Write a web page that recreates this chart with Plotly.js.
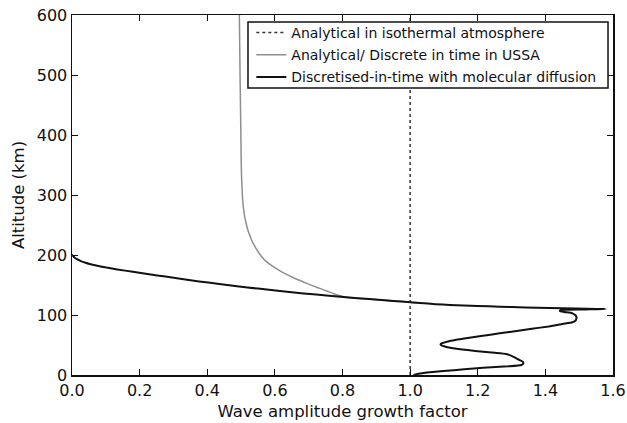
<!DOCTYPE html>
<html>
<head>
<meta charset="utf-8">
<script src="https://cdn.plot.ly/plotly-3.0.1.min.js"></script>
<style>html,body{margin:0;padding:0;background:#fff;}#chart{width:627px;height:423px;}</style>
</head>
<body>
<div id="chart"></div>
<script>
// Analytical in isothermal atmosphere
const isoAlt = [0, 600];
const isoFactor = [1, 1];

// Analytical / Discrete in time in USSA
const ussaAlt = [600, 500, 420, 375, 340, 310, 290, 270, 255, 240, 228, 216, 205, 197, 189, 181, 174, 168, 162, 157, 152.8, 148.5, 144.4, 140, 136, 133, 130, 128, 125, 122, 120];
const ussaFactor = [0.495, 0.497, 0.499, 0.5, 0.501, 0.503, 0.505, 0.509, 0.514, 0.521, 0.529, 0.539, 0.551, 0.561, 0.575, 0.594, 0.614, 0.633, 0.655, 0.676, 0.694, 0.713, 0.733, 0.753, 0.772, 0.787, 0.806, 0.845, 0.915, 0.985, 1.03];

// Discretised-in-time with molecular diffusion
const diffAlt = [201,199,197,195,193,191,189,187,185,182,179,176,172,168,164,160,156,152,148,144,140,136,132,128,125,122,120,118,116.7,115,113.9,112.7,111.7,110.8,110.2,109.3,108.2,106.5,105,102.8,99,94.5,90,87.8,85,81,77,73,69.5,65,61,57,54,52.8,51.2,49.5,47,44.5,41.5,38.8,37,35,32,29,27.8,25,22.2,19.5,16.7,14.5,12.2,9.5,6.7,4,2,0];
const diffFactor = [0,0.002,0.005,0.009,0.015,0.022,0.03,0.04,0.052,0.075,0.102,0.134,0.18,0.228,0.276,0.325,0.376,0.43,0.488,0.55,0.615,0.685,0.76,0.845,0.915,0.985,1.03,1.075,1.117,1.2,1.265,1.34,1.412,1.49,1.578,1.52,1.445,1.443,1.455,1.48,1.49,1.492,1.488,1.48,1.451,1.41,1.36,1.31,1.265,1.21,1.16,1.12,1.1,1.093,1.09,1.092,1.105,1.127,1.17,1.216,1.25,1.284,1.3,1.31,1.314,1.323,1.333,1.335,1.329,1.29,1.216,1.16,1.098,1.05,1.025,1.01];

const names = ["Analytical in isothermal atmosphere", "Analytical/ Discrete in time in USSA", "Discretised-in-time with molecular diffusion"];
const xTicks = [0, 0.2, 0.4, 0.6, 0.8, 1.0, 1.2, 1.4, 1.6];
const yTicks = [0, 100, 200, 300, 400, 500, 600];

const FONT = "DejaVu Sans, Arial, sans-serif";

const traces = [
  {x: isoFactor, y: isoAlt, mode: 'lines', name: names[0], legendgroup: 'a',
   line: {color: '#333', width: 1.5, dash: 'dot'}},
  {x: ussaFactor, y: ussaAlt, mode: 'lines', name: names[1], legendgroup: 'b',
   line: {color: '#8f8f8f', width: 1.5, shape: 'spline', smoothing: 0.8, simplify: false}},
  {x: diffFactor, y: diffAlt, mode: 'lines', name: names[2], legendgroup: 'c',
   line: {color: '#111', width: 2, shape: 'spline', smoothing: 0.5, simplify: false}}
];

const axisCommon = {
  showgrid: false, zeroline: false, showline: true, linecolor: '#111', linewidth: 1.5,
  mirror: 'ticks', ticks: 'inside', ticklen: 6, tickcolor: '#111', tickwidth: 1,
  tickfont: {family: FONT, size: 16, color: '#111'}
};

const layout = {
  width: 627, height: 423,
  margin: {l: 72, r: 14, t: 15, b: 48},
  paper_bgcolor: '#fff', plot_bgcolor: '#fff',
  font: {family: FONT, color: '#111'},
  showlegend: true,
  legend: {
    x: 0.3315, y: 0.9944, xanchor: 'left', yanchor: 'top',
    bgcolor: 'rgba(0,0,0,0)', borderwidth: 0,
    font: {family: FONT, size: 14, color: '#111'},
    traceorder: 'grouped', tracegroupgap: 1
  },
  // legend frame
  shapes: [{
    type: 'rect', xref: 'x domain', yref: 'y domain', layer: 'above',
    x0: 0.3253, x1: 0.9908, y0: 0.7972, y1: 0.9806,
    fillcolor: '#fff', line: {color: '#111', width: 1.5}
  }],
  xaxis: Object.assign({}, axisCommon, {
    range: [0, 1.6], tickvals: xTicks, tickformat: '.1f',
    title: {text: 'Wave amplitude growth factor', font: {family: FONT, size: 16.5, color: '#111'}, standoff: 6}
  }),
  yaxis: Object.assign({}, axisCommon, {
    range: [0, 600], tickvals: yTicks,
    title: {text: 'Altitude (km)', font: {family: FONT, size: 16.5, color: '#111'}, standoff: 8}
  })
};

Plotly.newPlot('chart', traces, layout, {displayModeBar: false, staticPlot: true});
</script>
</body>
</html>
